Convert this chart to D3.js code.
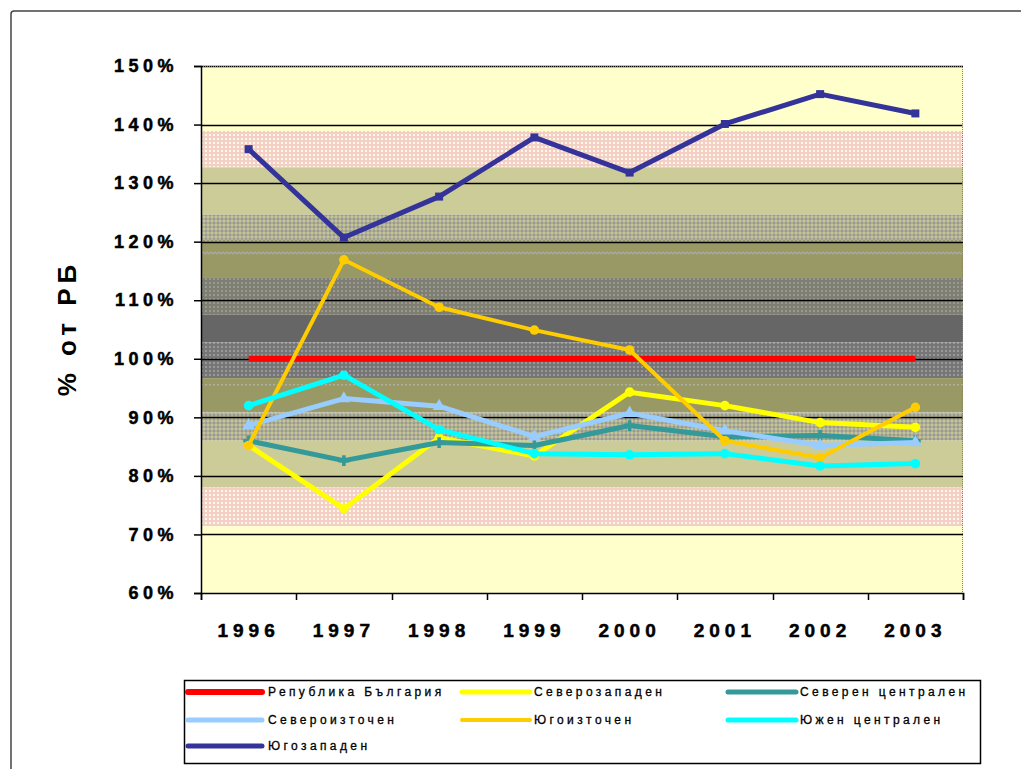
<!DOCTYPE html>
<html>
<head>
<meta charset="utf-8">
<script src="https://cdn.jsdelivr.net/npm/d3@7/dist/d3.min.js"></script>
<style>
  body { margin: 0; background: #fff; }
  svg { display: block; }
</style>
</head>
<body>
<svg id="chart" width="1021" height="769"></svg>
<script>
// data
var years = ['1996', '1997', '1998', '1999', '2000', '2001', '2002', '2003'];
var yTicks = [60, 70, 80, 90, 100, 110, 120, 130, 140, 150];

var republika   = [100, 100, 100, 100, 100, 100, 100, 100];
var severozap   = [85.2, 74.4, 86.5, 83.4, 94.3, 92.0, 89.1, 88.3];
var severCentr  = [86.0, 82.6, 85.7, 85.2, 88.6, 86.7, 86.9, 86.0];
var severoizt   = [88.6, 93.2, 91.9, 86.7, 90.7, 87.7, 85.2, 85.7];
var yugoizt     = [85.2, 116.9, 108.8, 104.9, 101.5, 86.0, 83.1, 91.7];
var yuzhenCentr = [92.0, 97.2, 87.9, 83.8, 83.6, 83.8, 81.7, 82.1];
var yugozap     = [135.8, 120.7, 127.7, 137.8, 131.8, 140.1, 145.2, 141.9];

var seriesNames = ['Република България', 'Северозападен', 'Северен централен',
                   'Североизточен', 'Югоизточен', 'Южен централен', 'Югозападен'];

// background bands [from, to] in %
var bandStops = [150, 138.9, 132.7, 124.6, 120.3, 113.8, 107.5, 102.8, 96.7, 90.8, 86.0, 78.0, 71.4, 60];
var bandFills = ['#FFFFCC', 'url(#pink)', '#CCCC99', 'url(#dotOlive)', 'url(#zigA)', 'url(#hatchA)',
                 '#666666', 'url(#hatchB)', 'url(#zigB)', 'url(#dotOlive)', '#CCCC99', 'url(#pink)', '#FFFFCC'];

var series = [
  {name: seriesNames[0], values: republika,   color: '#FF0000', width: 6, marker: null},
  {name: seriesNames[1], values: severozap,   color: '#FFFF00', width: 5, marker: 'circle'},
  {name: seriesNames[2], values: severCentr,  color: '#339999', width: 5, marker: 'cross'},
  {name: seriesNames[3], values: severoizt,   color: '#99CCFF', width: 5, marker: 'triangle'},
  {name: seriesNames[4], values: yugoizt,     color: '#FFCC00', width: 4, marker: 'circle'},
  {name: seriesNames[5], values: yuzhenCentr, color: '#00FFFF', width: 5, marker: 'circle'},
  {name: seriesNames[6], values: yugozap,     color: '#333399', width: 5, marker: 'diamond'}
];

var margins = {top: 66, bottom: 176, left: 201, right: 58};
var svg = d3.select('#chart');
var width = 1021 - margins.left - margins.right;
var height = 769 - margins.top - margins.bottom;

// patterns
var defs = svg.append('defs');
var pink = defs.append('pattern').attr('id', 'pink').attr('width', 4).attr('height', 4).attr('patternUnits', 'userSpaceOnUse');
pink.append('rect').attr('width', 4).attr('height', 4).attr('fill', '#F4CFC6');
pink.append('rect').attr('x', 0).attr('y', 0).attr('width', 2).attr('height', 2).attr('fill', '#FFF8E6');

var dotOlive = defs.append('pattern').attr('id', 'dotOlive').attr('width', 4).attr('height', 4).attr('patternUnits', 'userSpaceOnUse');
dotOlive.append('rect').attr('width', 4).attr('height', 4).attr('fill', '#B0B090');
dotOlive.append('rect').attr('width', 2).attr('height', 2).attr('fill', '#999999');
dotOlive.append('rect').attr('x', 2).attr('y', 2).attr('width', 2).attr('height', 2).attr('fill', '#C4C499');

var hatchA = defs.append('pattern').attr('id', 'hatchA').attr('width', 4).attr('height', 4).attr('patternUnits', 'userSpaceOnUse');
hatchA.append('rect').attr('width', 4).attr('height', 4).attr('fill', '#7E7E72');
hatchA.append('rect').attr('width', 2).attr('height', 2).attr('fill', '#999990');

var hatchB = defs.append('pattern').attr('id', 'hatchB').attr('width', 4).attr('height', 4).attr('patternUnits', 'userSpaceOnUse');
hatchB.append('rect').attr('width', 4).attr('height', 4).attr('fill', '#767676');
hatchB.append('rect').attr('width', 2).attr('height', 2).attr('fill', '#999999');

function zig(id, lines) {
  var p = defs.append('pattern').attr('id', id).attr('width', 8).attr('height', 40).attr('patternUnits', 'userSpaceOnUse');
  p.append('rect').attr('width', 8).attr('height', 40).attr('fill', '#999966');
  lines.forEach(function(l) {
    if (l.type === 'zig') {
      p.append('path').attr('d', 'M0,' + (l.y + 2) + 'L2,' + l.y + 'L4,' + (l.y + 2) + 'L6,' + l.y + 'L8,' + (l.y + 2))
        .attr('fill', 'none').attr('stroke', '#AAAAAA').attr('stroke-width', 1.2);
    } else {
      p.append('rect').attr('x', 0).attr('y', l.y).attr('width', 2).attr('height', 1.5).attr('fill', '#B0B0A0');
      p.append('rect').attr('x', 4).attr('y', l.y).attr('width', 2).attr('height', 1.5).attr('fill', '#B0B0A0');
    }
  });
}
zig('zigA', [{type: 'dot', y: 14}, {type: 'zig', y: 26}]);
zig('zigB', [{type: 'zig', y: 26}, {type: 'dot', y: 38}]);

// outer frame
svg.append('path').attr('d', 'M11,769 L11,14 Q11,11 14,11 L1021,11')
  .attr('fill', 'none').attr('stroke', '#444').attr('stroke-width', 1.5);

var xScale = d3.scaleBand().domain(years).range([0, width]);
var yScale = d3.scaleLinear().domain([60, 150]).range([height, 0]);

var plot = svg.append('g').attr('transform', 'translate(' + margins.left + ',' + margins.top + ')');

// bands
plot.selectAll('rect.band')
  .data(bandFills)
  .enter()
  .append('rect')
  .attr('class', 'band')
  .attr('x', 0)
  .attr('width', width)
  .attr('y', function(d, i) { return yScale(bandStops[i]); })
  .attr('height', function(d, i) { return yScale(bandStops[i + 1]) - yScale(bandStops[i]); })
  .attr('fill', function(d) { return d; });

// grid
plot.selectAll('line.grid')
  .data(yTicks.slice(1))
  .enter()
  .append('line')
  .attr('x1', 0).attr('x2', width)
  .attr('y1', function(d) { return Math.round(yScale(d)) + 0.5; })
  .attr('y2', function(d) { return Math.round(yScale(d)) + 0.5; })
  .attr('stroke', '#000').attr('stroke-width', 1.5);

// dotted border top/right
plot.append('path').attr('d', 'M0,0.5 H' + (width - 0.5) + ' V' + height)
  .attr('fill', 'none').attr('stroke', '#808080').attr('stroke-width', 1).attr('stroke-dasharray', '1,1');

// axes
var yAxis = d3.axisLeft(yScale).tickValues(yTicks).tickSize(7).tickPadding(16)
  .tickFormat(function(d) { return d + '%'; });
var xAxis = d3.axisBottom(xScale).tickSize(7).tickPadding(24);

var gy = plot.append('g').call(yAxis);
var gx = plot.append('g').attr('transform', 'translate(0,' + height + ')').call(xAxis);

gy.select('.domain').attr('stroke', '#000').attr('stroke-width', 1.5);
gx.select('.domain').attr('stroke', '#000').attr('stroke-width', 1.5);
gy.selectAll('.tick line').attr('stroke', '#000').attr('stroke-width', 1.5);
gy.selectAll('text').style('font', 'bold 18px "Liberation Sans", Arial, sans-serif')
  .style('letter-spacing', '4.5px').attr('fill', '#000')
  .attr('stroke', '#000').attr('stroke-width', 0.5);

// x ticks go on band edges
gx.selectAll('.tick line').remove();
gx.selectAll('line.edge')
  .data(years.concat(['end']))
  .enter()
  .append('line')
  .attr('x1', function(d, i) { return Math.round(i * xScale.step()) + 0.5; })
  .attr('x2', function(d, i) { return Math.round(i * xScale.step()) + 0.5; })
  .attr('y1', 0).attr('y2', 7)
  .attr('stroke', '#000').attr('stroke-width', 1.5);
gx.selectAll('text').style('font', 'bold 19px "Liberation Sans", Arial, sans-serif')
  .style('letter-spacing', '5px').attr('fill', '#000')
  .attr('stroke', '#000').attr('stroke-width', 0.5);

// axis title
svg.append('text')
  .attr('transform', 'translate(76,328) rotate(-90)')
  .attr('text-anchor', 'middle')
  .style('font', 'bold 26px "Liberation Sans", Arial, sans-serif')
  .style('letter-spacing', '5px')
  .text('% от РБ');

// lines
var line = d3.line()
  .x(function(d, i) { return xScale(years[i]) + xScale.bandwidth() / 2; })
  .y(function(d) { return yScale(d); });

function markerPath(type, s) {
  if (type === 'circle') return d3.symbol().type(d3.symbolCircle).size(s * 9)();
  if (type === 'diamond') return d3.symbol().type(d3.symbolSquare).size(s * 8)();
  if (type === 'triangle') return d3.symbol().type(d3.symbolTriangle).size(s * 9)();
  if (type === 'cross') return d3.symbol().type(d3.symbolCross).size(s * 8)();
  return null;
}

series.forEach(function(s) {
  plot.append('path')
    .datum(s.values)
    .attr('d', line)
    .attr('fill', 'none')
    .attr('stroke', s.color)
    .attr('stroke-width', s.width)
    .attr('stroke-linejoin', 'round');

  if (s.marker) {
    plot.selectAll(null)
      .data(s.values)
      .enter()
      .append('path')
      .attr('transform', function(d, i) {
        return 'translate(' + (xScale(years[i]) + xScale.bandwidth() / 2) + ',' + yScale(d) + ')';
      })
      .attr('d', markerPath(s.marker, 8))
      .attr('fill', s.color);
  }
});

// legend
var legend = svg.append('g');
legend.append('rect').attr('x', 184.5).attr('y', 680.5).attr('width', 796).attr('height', 83)
  .attr('fill', '#fff').attr('stroke', '#000').attr('stroke-width', 1.5);

var colX = [188, 462, 728];
var rowY = [692, 720, 746];

var items = legend.selectAll('g.item')
  .data(series)
  .enter()
  .append('g')
  .attr('transform', function(d, i) {
    return 'translate(' + colX[i % 3] + ',' + rowY[Math.floor(i / 3)] + ')';
  });

items.append('line')
  .attr('x1', 0).attr('x2', function(d, i) { return i % 3 === 0 ? 74 : 68; })
  .attr('y1', 0).attr('y2', 0)
  .attr('stroke', function(d) { return d.color; })
  .attr('stroke-width', function(d) { return d.width; })
  .attr('stroke-linecap', 'round');

items.append('text')
  .attr('x', function(d, i) { return i % 3 === 0 ? 80 : 72; })
  .attr('y', 4)
  .style('font', '12px "Liberation Sans", Arial, sans-serif')
  .style('letter-spacing', '3.4px')
  .attr('stroke', '#000').attr('stroke-width', 0.3)
  .text(function(d) { return d.name; });
</script>
</body>
</html>
